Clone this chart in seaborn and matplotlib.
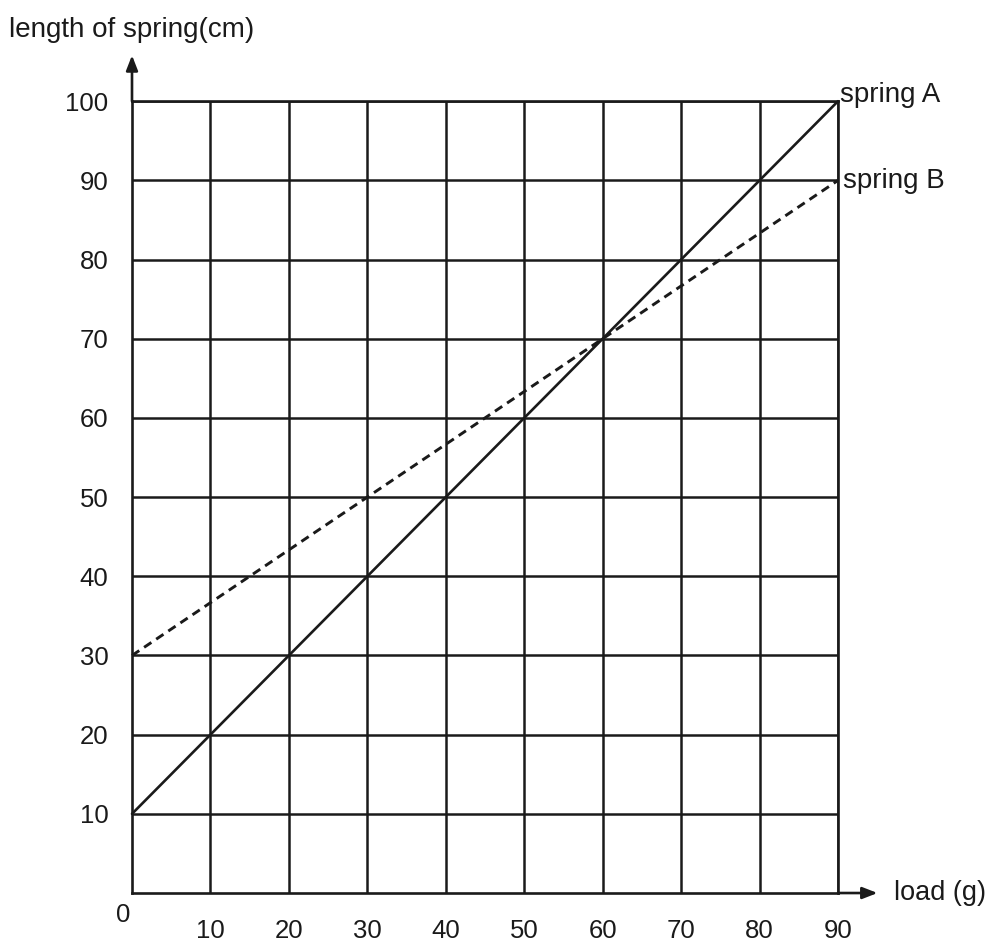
import matplotlib
matplotlib.use("Agg")
import matplotlib.pyplot as plt
import seaborn as sns
import pandas as pd

# Load (g) and spring length (cm)
load_a = [0, 10, 20, 30, 40, 50, 60, 70, 80, 90]
length_a = [10, 20, 30, 40, 50, 60, 70, 80, 90, 100]
load_b = [0, 30, 60, 90]
length_b = [30, 50, 70, 90]

x_ticks = [10, 20, 30, 40, 50, 60, 70, 80, 90]
y_ticks = [10, 20, 30, 40, 50, 60, 70, 80, 90, 100]

sns.set_style("white")
plt.rcParams["font.family"] = ["Liberation Sans", "DejaVu Sans"]

ink = "#1a1a1a"
fig = plt.figure(figsize=(9.97, 9.46), dpi=100)
ax = fig.add_axes([0.1324, 0.056, 0.7081, 0.837])

df_a = pd.DataFrame({"load": load_a, "length": length_a})
df_b = pd.DataFrame({"load": load_b, "length": length_b})

sns.lineplot(data=df_a, x="load", y="length", ax=ax, color=ink,
             linewidth=1.9, clip_on=False, zorder=3)
sns.lineplot(data=df_b, x="load", y="length", ax=ax, color=ink,
             linewidth=2.1, linestyle=(0, (3.0, 2.0)), clip_on=False, zorder=3)

ax.set_xlim(0, 90)
ax.set_ylim(0, 100)
ax.set_xticks(x_ticks)
ax.set_yticks(y_ticks)
ax.grid(True, color=ink, linewidth=1.8)
for s in ax.spines.values():
    s.set_color(ink)
    s.set_linewidth(1.9)
ax.tick_params(axis="both", length=0, labelsize=18.5, colors=ink)
ax.tick_params(axis="x", pad=19)
ax.tick_params(axis="y", pad=17)
ax.set_xlabel("")
ax.set_ylabel("")

# origin label
ax.text(-0.2, -1.3, "0", ha="right", va="top", fontsize=18.5, color=ink)

# axis arrows
arrow = dict(arrowstyle="-|>,head_length=0.9,head_width=0.35", color=ink,
             lw=1.9, shrinkA=0, shrinkB=0)
ax.annotate("", xy=(0, 1.058), xytext=(0, 1.0), xycoords="axes fraction",
            textcoords="axes fraction", arrowprops=arrow, annotation_clip=False)
ax.annotate("", xy=(1.056, 0), xytext=(1.0, 0), xycoords="axes fraction",
            textcoords="axes fraction", arrowprops=arrow, annotation_clip=False)

ax.text(1.08, 0.0, "load (g)", transform=ax.transAxes, ha="left", va="center",
        fontsize=19.5, color=ink)
fig.text(0.009, 0.968, "length of spring(cm)", ha="left", va="center",
         fontsize=20, color=ink)

ax.text(90.3, 100.8, "spring A", ha="left", va="center", fontsize=20, color=ink)
ax.text(90.6, 89.9, "spring B", ha="left", va="center", fontsize=20, color=ink)

fig.savefig("out.png", dpi=100, facecolor="white")
